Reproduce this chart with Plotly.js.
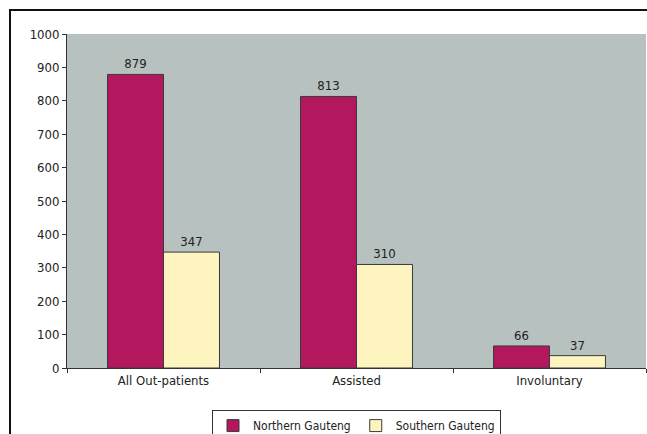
<!DOCTYPE html>
<html>
<head>
<meta charset="utf-8">
<script src="https://cdn.plot.ly/plotly-3.0.1.min.js"></script>
<style>
html,body{margin:0;padding:0;background:#fff;overflow:hidden;}
#frame{position:absolute;left:9px;top:9px;width:700px;height:500px;border-left:2px solid #111;border-top:2px solid #111;}
#chart{position:absolute;left:0;top:0;width:647px;height:434px;}
</style>
</head>
<body>
<div id="frame"></div>
<div id="chart"></div>
<script>
var categories = ["All Out-patients", "Assisted", "Involuntary"];
var northern = [879, 813, 66];
var southern = [347, 310, 37];
var seriesNames = ["Northern Gauteng", "Southern Gauteng"];
var yTicks = [0, 100, 200, 300, 400, 500, 600, 700, 800, 900, 1000];

var fam = "DejaVu Sans Condensed, DejaVu Sans, sans-serif";
var fnt = {family: fam, size: 12, color: "#222"};

var traces = [
  {type: "bar", name: seriesNames[0], x: categories, y: northern,
   marker: {color: "#b3175e", line: {color: "#3a3a3a", width: 1}},
   text: northern.map(String), textposition: "outside", cliponaxis: false,
   textfont: {family: fam, size: 13, color: "#222"}},
  {type: "bar", name: seriesNames[1], x: categories, y: southern,
   marker: {color: "#fdf4c0", line: {color: "#3a3a3a", width: 1}},
   text: southern.map(String), textposition: "outside", cliponaxis: false,
   textfont: {family: fam, size: 13, color: "#222"}}
];

var layout = {
  width: 647, height: 434,
  margin: {l: 67, r: 1, t: 34, b: 66, autoexpand: false},
  paper_bgcolor: "rgba(0,0,0,0)",
  plot_bgcolor: "#b6c1c0",
  barmode: "group",
  bargap: 0.42,
  bargroupgap: 0,
  font: fnt,
  showlegend: true,
  legend: {orientation: "h", x: 0.5, xanchor: "center", y: -0.126, yanchor: "top",
           bgcolor: "#fff", bordercolor: "#333", borderwidth: 1,
           font: {family: fam, size: 12, color: "#222"},
           itemwidth: 30, tracegroupgap: 0},
  xaxis: {showline: true, linecolor: "#333", linewidth: 1, ticks: "outside", ticklen: 4,
          tickcolor: "#333", tickson: "boundaries", showgrid: false,
          tickfont: {family: fam, size: 13, color: "#222"}},
  yaxis: {range: [0, 1000], tickvals: yTicks, showline: true, linecolor: "#333", linewidth: 1,
          ticks: "outside", ticklen: 4, tickcolor: "#333", showgrid: false, zeroline: false,
          tickfont: {family: fam, size: 13, color: "#222"}}
};

Plotly.newPlot("chart", traces, layout, {displayModeBar: false, staticPlot: true});
</script>
</body>
</html>
